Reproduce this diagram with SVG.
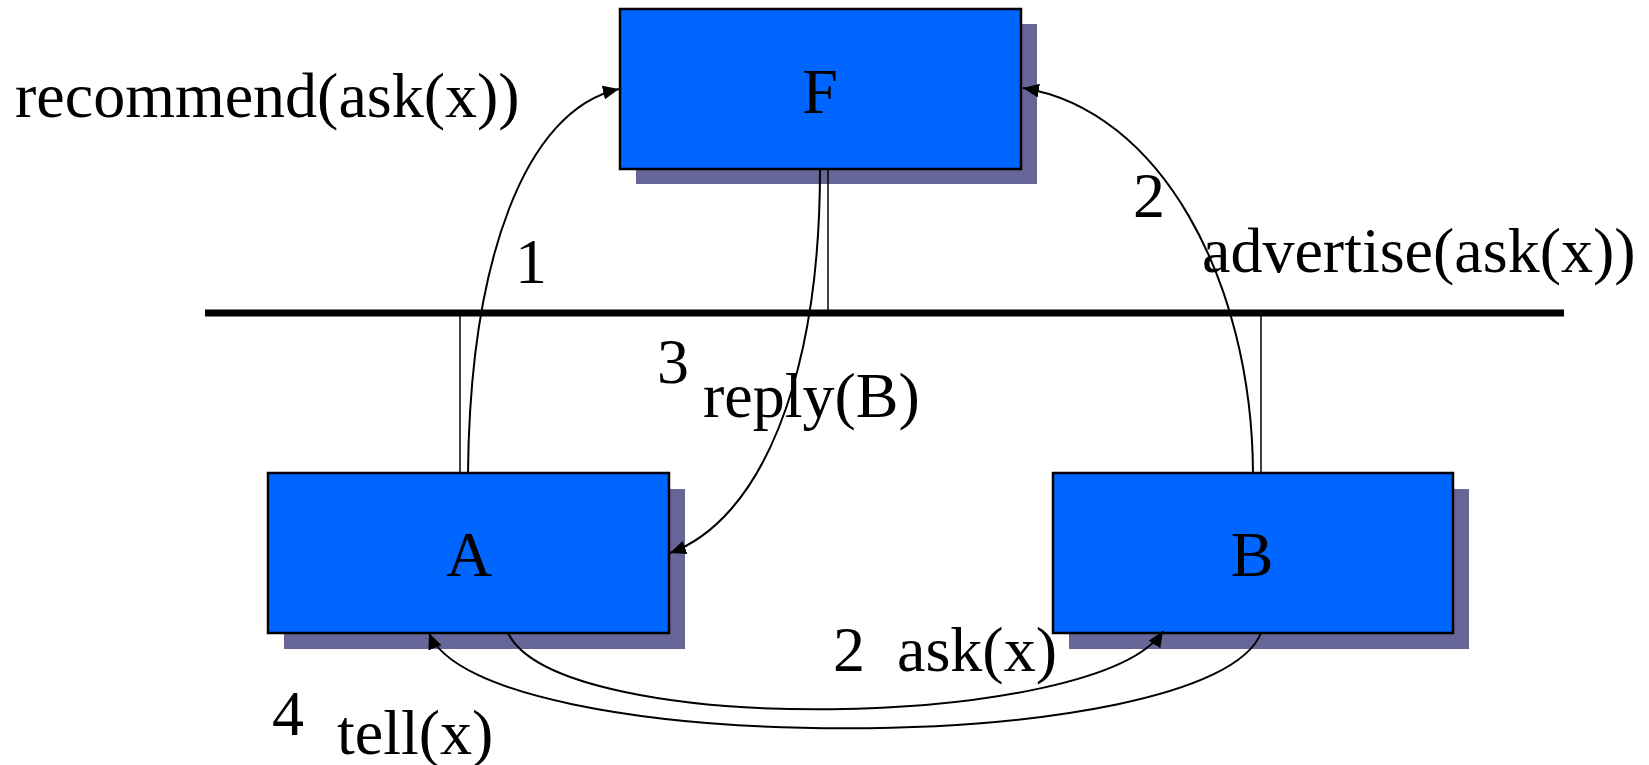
<svg xmlns="http://www.w3.org/2000/svg" width="1649" height="765" viewBox="0 0 1649 765">
<style>
.box{fill:#0066FF;stroke:#000;stroke-width:2.5}
.shadow{fill:#666699}
.t{font-family:"Liberation Serif","Times New Roman",serif;font-size:64px;fill:#000}
.c{text-anchor:middle}
.wire{stroke:#000;stroke-width:1.5;fill:none}
.arc{stroke:#000;stroke-width:2;fill:none}
.bus{stroke:#000;stroke-width:7}
</style>
<defs>
<marker id="ah" markerUnits="userSpaceOnUse" markerWidth="18" markerHeight="14" refX="16" refY="7" orient="auto">
<path d="M0,0 L16,7 L0,14 z" fill="#000"/>
</marker>
</defs>
<rect width="1649" height="765" fill="#fff"/>
<g id="bus">
<line class="bus" x1="205" y1="313" x2="1564" y2="313"/>
</g>
<g id="F">
<rect class="shadow" x="636" y="24" width="401" height="160"/>
<rect class="box" x="620" y="9" width="401" height="160"/>
<text class="t c" x="820" y="113">F</text>
</g>
<g id="A">
<rect class="shadow" x="284" y="489" width="401" height="160"/>
<rect class="box" x="268" y="473" width="401" height="160"/>
<text class="t c" x="469" y="576">A</text>
</g>
<g id="B">
<rect class="shadow" x="1069" y="489" width="400" height="160"/>
<rect class="box" x="1053" y="473" width="400" height="160"/>
<text class="t c" x="1252" y="576">B</text>
</g>
<g id="connectors">
<line class="wire" x1="460" y1="313" x2="460" y2="473"/>
<line class="wire" x1="828" y1="169" x2="828" y2="313"/>
<line class="wire" x1="1261" y1="313" x2="1261" y2="473"/>
<path class="arc" d="M468,473 C470,260 525,110 619,89" marker-end="url(#ah)"/>
<path class="arc" d="M1253,473 C1252,280 1160,110 1023,88" marker-end="url(#ah)"/>
<path class="arc" d="M820,169 C820,380 760,520 670,553" marker-end="url(#ah)"/>
<path class="arc" d="M508,633 C560,740 1100,730 1163,631" marker-end="url(#ah)"/>
<path class="arc" d="M1261,633 C1210,760 480,760 429,633" marker-end="url(#ah)"/>
</g>
<g id="labels">
<text class="t" x="15" y="117">recommend(ask(x))</text>
<text class="t" x="515" y="283">1</text>
<text class="t" x="1133" y="217">2</text>
<text class="t" x="1202" y="272">advertise(ask(x))</text>
<text class="t" x="657" y="383">3</text>
<text class="t" x="703" y="417">reply(B)</text>
<text class="t" x="833" y="671">2</text>
<text class="t" x="897" y="671">ask(x)</text>
<text class="t" x="272" y="735">4</text>
<text class="t" x="337" y="754">tell(x)</text>
</g>
</svg>
